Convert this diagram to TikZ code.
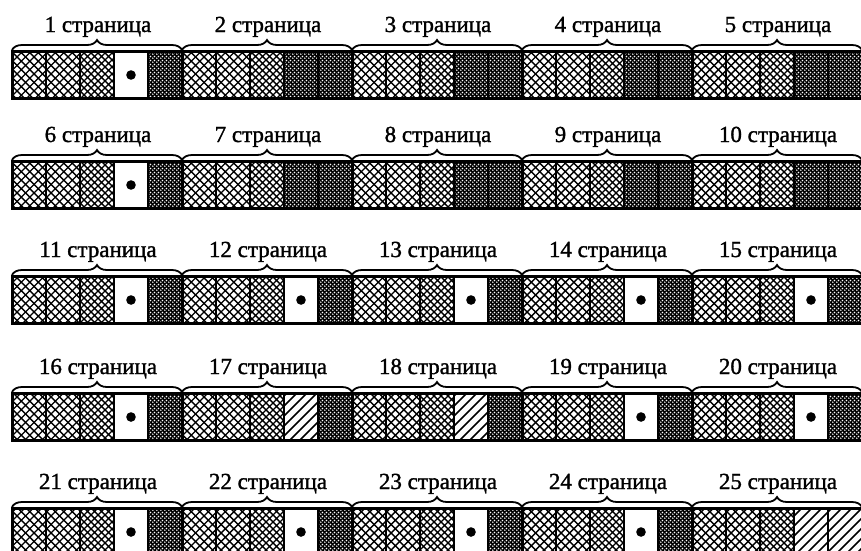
\documentclass[tikz,border=0pt]{standalone}
\usepackage{fontspec}
\setmainfont{Liberation Serif}
\newfontfamily\lblfont[FakeBold=1.3]{Liberation Serif}
\usetikzlibrary{patterns,decorations.pathreplacing}
\pgfdeclarepatternformonly{xcoarse}{\pgfqpoint{-1pt}{-1pt}}{\pgfqpoint{9.5pt}{9.5pt}}{\pgfqpoint{8.5pt}{8.5pt}}{%
  \pgfsetlinewidth{1.4pt}%
  \pgfpathmoveto{\pgfqpoint{0pt}{0pt}}\pgfpathlineto{\pgfqpoint{8.6pt}{8.6pt}}%
  \pgfpathmoveto{\pgfqpoint{8.6pt}{0pt}}\pgfpathlineto{\pgfqpoint{0pt}{8.6pt}}%
  \pgfusepath{stroke}}
\pgfdeclarepatternformonly{xfine}{\pgfqpoint{-1pt}{-1pt}}{\pgfqpoint{8pt}{8pt}}{\pgfqpoint{7pt}{7pt}}{%
  \pgfsetlinewidth{1.3pt}%
  \pgfpathmoveto{\pgfqpoint{0pt}{0pt}}\pgfpathlineto{\pgfqpoint{7.1pt}{7.1pt}}%
  \pgfpathmoveto{\pgfqpoint{7.1pt}{0pt}}\pgfpathlineto{\pgfqpoint{0pt}{7.1pt}}%
  \pgfusepath{stroke}}
\pgfdeclarepatternformonly{wdots}{\pgfqpoint{0pt}{0pt}}{\pgfqpoint{4pt}{4pt}}{\pgfqpoint{4pt}{4pt}}{%
  \pgfpathcircle{\pgfqpoint{1pt}{1pt}}{1.05pt}%
  \pgfpathcircle{\pgfqpoint{3pt}{3pt}}{1.05pt}%
  \pgfusepath{fill}}
\pgfdeclarepatternformonly{hatchne}{\pgfqpoint{-1pt}{-1pt}}{\pgfqpoint{11pt}{11pt}}{\pgfqpoint{10pt}{10pt}}{%
  \pgfsetlinewidth{1.7pt}%
  \pgfpathmoveto{\pgfqpoint{0pt}{0pt}}\pgfpathlineto{\pgfqpoint{10.1pt}{10.1pt}}%
  \pgfusepath{stroke}}
\tikzset{
  lbl/.style={font=\lblfont\fontsize{23}{26}\selectfont, anchor=base, inner sep=0pt},
  pagebrace/.style={decorate, decoration={brace, amplitude=10pt}, line width=1.8pt},
  cellX/.pic={\fill[pattern=xcoarse] (0,0) rectangle (34,47);},
  cellx/.pic={\fill[pattern=xfine] (0,0) rectangle (34,47);},
  cellD/.pic={\fill[black] (0,0) rectangle (34,47);
              \fill[pattern=wdots, pattern color=white] (0,0) rectangle (34,47);},
  celld/.pic={\fill[white] (0,0) rectangle (34,47);
              \fill[black] (17,24) circle (4.8);},
  cellh/.pic={\fill[pattern=hatchne] (0,0) rectangle (34,47);},
}
\begin{document}
\begin{tikzpicture}[x=1pt,y=-1pt]
\path[use as bounding box, clip] (0,0) rectangle (861,550);
\fill[white] (0,0) rectangle (861,550);
\foreach \n/\c/\d [count=\i from 0] in {
  1/d/D, 2/D/D, 3/D/D, 4/D/D, 5/D/D,
  6/d/D, 7/D/D, 8/D/D, 9/D/D, 10/D/D,
  11/d/D, 12/d/D, 13/d/D, 14/d/D, 15/d/D,
  16/d/D, 17/h/D, 18/h/D, 19/d/D, 20/d/D,
  21/d/D, 22/d/D, 23/d/D, 24/d/D, 25/h/h}{
  \pgfmathtruncatemacro\row{int(\i/5)}
  \pgfmathtruncatemacro\col{mod(\i,5)}
  \pgfmathsetmacro\top{{51,161,276,393,508}[\row]}
  \pgfmathsetmacro\xa{12+170*\col}
  \pic at (\xa,\top) {cellX};
  \pic at (\xa+34,\top) {cellX};
  \pic at (\xa+68,\top) {cellx};
  \pic at (\xa+102,\top) {cell\c};
  \pic at (\xa+136,\top) {cell\d};
  \draw[line width=2.2pt] (\xa+34,\top) -- (\xa+34,\top+47)
        (\xa+68,\top) -- (\xa+68,\top+47)
        (\xa+102,\top) -- (\xa+102,\top+47)
        (\xa+136,\top) -- (\xa+136,\top+47);
  \draw[line width=3pt] (\xa,\top) rectangle (\xa+170,\top+47);
  \coordinate (bl\n) at (\xa,\top-1);
  \coordinate (br\n) at (\xa+170,\top-1);
  \draw[pagebrace] (bl\n) -- (br\n);
  \node[lbl] (p\n) at (\xa+86,\top-19) {\n\ страница};
}
\end{tikzpicture}
\end{document}
